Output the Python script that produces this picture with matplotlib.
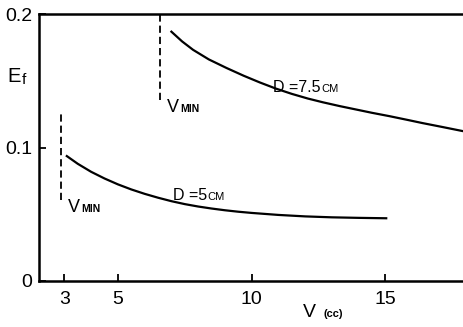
import matplotlib
matplotlib.use("Agg")
import matplotlib.pyplot as plt
from matplotlib.transforms import offset_copy

# curve D = 5 cm  (V in cc, E_f)
V_D5 = [3.09, 3.5, 4.0, 4.5, 5.0, 5.5, 6.0, 6.5, 7.0, 7.5, 8.0, 8.5, 9.0, 9.5, 10.0,
        11.0, 12.0, 13.0, 14.0, 15.03]
E_D5 = [0.0936, 0.0878, 0.0818, 0.0768, 0.0724, 0.0686, 0.0653, 0.0624, 0.0598, 0.0576,
        0.0558, 0.0543, 0.0530, 0.0519, 0.0510, 0.0495, 0.0484, 0.0477, 0.0473, 0.0470]

# curve D = 7.5 cm
V_D75 = [7.0, 7.4, 7.81, 8.4, 9.06, 9.7, 10.3, 10.9, 11.5, 12.1, 12.66, 13.3, 13.9,
         14.5, 15.15, 15.8, 16.39, 17.1, 17.87]
E_D75 = [0.1868, 0.1795, 0.1732, 0.1660, 0.1596, 0.1538, 0.1488, 0.1442, 0.1402, 0.1367,
         0.1339, 0.1310, 0.1285, 0.1260, 0.1235, 0.1208, 0.1183, 0.1155, 0.1124]

# V_min markers (x, y_low, y_high)
VMIN_D5 = (2.87, 0.0607, 0.1258)
VMIN_D75 = (6.59, 0.1356, 0.2)

XTICKS = [3, 5, 10, 15]
YTICKS = [0, 0.1, 0.2]
YTICKLABELS = ["0", "0.1", "0.2"]

plt.rcParams["font.family"] = ["Liberation Sans", "DejaVu Sans"]

fig = plt.figure(figsize=(4.63, 3.27), dpi=100)
ax = fig.add_axes([0.0842, 0.1407, 0.9158, 0.8163])
renderer = fig.canvas.get_renderer()


def two_part(x, y, big, small, bsize, ssize, trans, gap=1.0, sweight="bold", dy=0):
    """Big text followed right away by a smaller (small-caps like) part."""
    t = ax.text(x, y, big, fontsize=bsize, va="baseline", transform=trans)
    w = t.get_window_extent(renderer).width
    ax.text(x, y, small, fontsize=ssize, va="baseline", fontweight=sweight,
            transform=offset_copy(trans, fig=fig, x=w + gap, y=dy, units="dots"))


ax.plot(V_D5, E_D5, "k-", lw=1.6)
ax.plot(V_D75, E_D75, "k-", lw=1.6)
for vx, y0, y1 in (VMIN_D5, VMIN_D75):
    ax.plot([vx, vx], [y0, y1], "k-", lw=1.3, linestyle=(0, (4, 2.2)))

ax.set_xlim(2.05, 17.9)
ax.set_ylim(0, 0.2)
ax.set_xticks(XTICKS)
ax.set_xticklabels([str(t) for t in XTICKS])
ax.set_yticks(YTICKS)
ax.set_yticklabels(YTICKLABELS)
ax.tick_params(direction="in", length=5, width=1.3, labelsize=14, pad=5)
ax.tick_params(axis="x", pad=7)
ax.spines["right"].set_visible(False)
for s in ("left", "bottom", "top"):
    ax.spines[s].set_linewidth(1.8)

# curve annotations
two_part(3.13, 0.0517, "V", "MIN", 13, 7.5, ax.transData)
two_part(6.83, 0.1266, "V", "MIN", 13, 7.5, ax.transData)
two_part(7.05, 0.0605, "D =5", "CM", 11.5, 8, ax.transData, sweight="normal")
two_part(10.8, 0.1416, "D =7.5", "CM", 11.5, 8, ax.transData, sweight="normal")

# axis titles
two_part(0.015, 1 - 82 / 327, "E", "f", 14.5, 11, fig.transFigure, gap=1, sweight="normal", dy=-2)
two_part(0.654, 1 - 317 / 327, "V ", "(cc)", 14, 8, fig.transFigure, gap=2)

fig.savefig("out.png", dpi=100)
